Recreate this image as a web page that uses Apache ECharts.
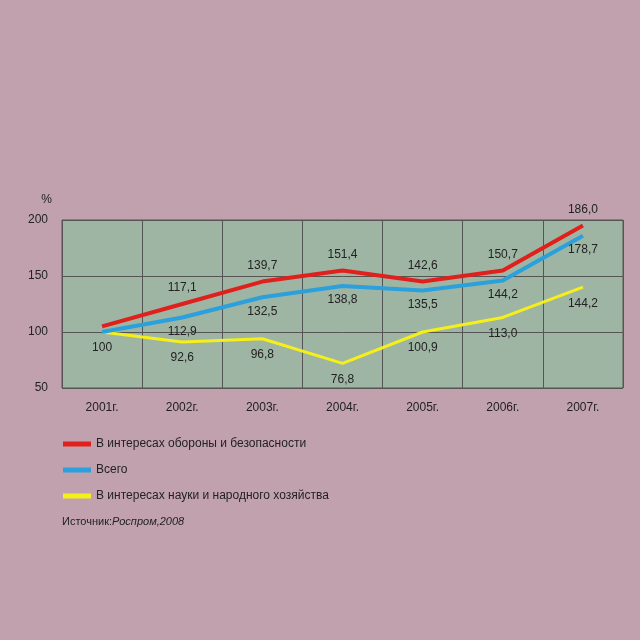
<!DOCTYPE html>
<html lang="ru">
<head>
<meta charset="UTF-8">
<script src="https://cdn.jsdelivr.net/npm/echarts@6/dist/echarts.min.js"></script>
<style>html,body{margin:0;background:#c1a1ae;}#chart{width:640px;height:640px;}</style>
</head>
<body>
<div id="chart"></div>
<script>
var years = ['2001г.', '2002г.', '2003г.', '2004г.', '2005г.', '2006г.', '2007г.'];
// line positions as drawn
var defense = [105, 125, 145, 155, 145, 155, 195];
var total = [100, 113, 131, 141, 137, 146, 186];
var civil = [100, 91, 94, 72, 100, 113, 140];
// printed labels
var defenseLabels = ['', '117,1', '139,7', '151,4', '142,6', '150,7', '186,0'];
var totalLabels = ['', '112,9', '132,5', '138,8', '135,5', '144,2', '178,7'];
var civilLabels = ['100', '92,6', '96,8', '76,8', '100,9', '113,0', '144,2'];

function lbl(arr, pos, dist) {
    return {
        show: true, position: pos, distance: dist, color: '#222', fontSize: 12,
        fontFamily: 'Liberation Sans',
        formatter: function (p) { return arr[p.dataIndex]; }
    };
}

var chart = echarts.init(document.getElementById('chart'));
chart.setOption({
    animation: false,
    textStyle: { fontFamily: 'Liberation Sans' },
    grid: { left: 62, right: 17, top: 220, bottom: 252, show: true, backgroundColor: '#9fb5a4', borderColor: '#555', borderWidth: 1 },
    legend: {
        orient: 'vertical', left: 58, top: 433, itemGap: 14,
        icon: 'rect', itemWidth: 28, itemHeight: 5,
        textStyle: { fontSize: 12, color: '#222' },
        data: ['В интересах обороны и безопасности', 'Всего', 'В интересах науки и народного хозяйства']
    },
    graphic: [{
        type: 'text', left: 62, top: 516,
        style: { rich: { a: { fontSize: 11, fill: '#222' }, b: { fontSize: 11, fill: '#222', fontStyle: 'italic' } },
                 text: '{a|Источник:}{b|Роспром,2008}' }
    }],
    xAxis: {
        type: 'category', data: years, boundaryGap: true,
        axisLine: { show: false }, axisTick: { show: false },
        axisLabel: { color: '#222', fontSize: 12, margin: 14 },
        splitLine: { show: true, lineStyle: { color: '#555', width: 1 } }
    },
    yAxis: {
        type: 'value', min: 50, max: 200, interval: 50,
        name: '%', nameGap: 14, nameTextStyle: { color: '#222', fontSize: 12, align: 'right', padding: [0, 10, 0, 0] },
        axisLine: { show: false }, axisTick: { show: false },
        axisLabel: { color: '#222', fontSize: 12, margin: 14 },
        splitLine: { lineStyle: { color: '#555', width: 1 } }
    },
    series: [
        { name: 'В интересах обороны и безопасности', type: 'line', data: defense, symbol: 'circle', symbolSize: 0,
          color: '#e0201c', lineStyle: { width: 4 }, label: lbl(defenseLabels, 'top', 10), z: 4 },
        { name: 'Всего', type: 'line', data: total, symbol: 'circle', symbolSize: 0,
          color: '#2aa0dc', lineStyle: { width: 4 }, label: lbl(totalLabels, 'bottom', 8), z: 3 },
        { name: 'В интересах науки и народного хозяйства', type: 'line', data: civil, symbol: 'circle', symbolSize: 0,
          color: '#f5ef1a', lineStyle: { width: 3 }, label: lbl(civilLabels, 'bottom', 10), z: 2 }
    ]
});
</script>
</body>
</html>
